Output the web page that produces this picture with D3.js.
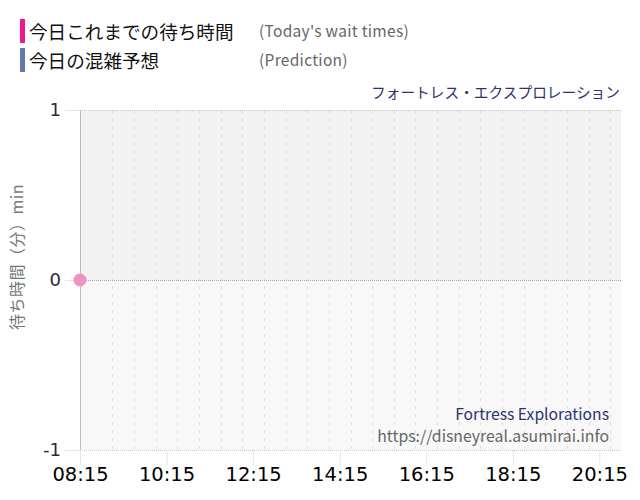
<!DOCTYPE html>
<html>
<head>
<meta charset="utf-8">
<script src="https://cdn.jsdelivr.net/npm/d3@7"></script>
<style>
  body { margin: 0; background: #fff; }
  svg { display: block; font-family: "Noto Sans CJK JP", "Noto Sans", sans-serif; }
</style>
</head>
<body>
<div id="chart"></div>
<script>
var width = 640;
var height = 500;
var margin = { top: 110, right: 19, bottom: 50, left: 80 };

// data
var legendNames = ["今日これまでの待ち時間", "今日の混雑予想"];
var legendNotes = ["(Today's wait times)", "(Prediction)"];
var legendColors = ["#f0168c", "#6279a6"];
var waitTimes = ["08:15"];
var waitValues = [0];
var xTickLabels = ["08:15", "10:15", "12:15", "14:15", "16:15", "18:15", "20:15"];
var yTicks = [-1, 0, 1];
var attraction = "フォートレス・エクスプロレーション";
var attractionEn = "Fortress Explorations";
var siteUrl = "https://disneyreal.asumirai.info";

var parseTime = d3.timeParse("%H:%M");
var fmt = d3.timeFormat("%H:%M");

var svg = d3.select("#chart").append("svg")
    .attr("width", width)
    .attr("height", height);

var x = d3.scaleTime()
    .domain([parseTime("08:15"), parseTime("20:45")])
    .range([margin.left, width - margin.right]);

var y = d3.scaleLinear()
    .domain([-1, 1])
    .range([height - margin.bottom, margin.top]);

// legend
var legend = svg.selectAll(".legend")
    .data(legendNames)
    .enter().append("g")
    .attr("transform", function (d, i) { return "translate(0," + (i * 29) + ")"; });

legend.append("rect")
    .attr("x", 20).attr("y", 19)
    .attr("width", 5).attr("height", 24)
    .attr("fill", function (d, i) { return legendColors[i]; });

legend.append("text")
    .attr("x", 29).attr("y", 39)
    .attr("font-size", 18.6)
    .attr("fill", "#111")
    .text(function (d) { return d; });

legend.append("text")
    .attr("x", 259).attr("y", 37)
    .attr("font-size", 15.5)
    .attr("letter-spacing", 0.3)
    .attr("fill", "#666")
    .text(function (d, i) { return legendNotes[i]; });

// title
svg.append("text")
    .attr("x", width - 20).attr("y", 98)
    .attr("text-anchor", "end")
    .attr("font-size", 14.7)
    .attr("fill", "#2d3170")
    .text(attraction);

// background bands
svg.append("rect")
    .attr("x", x.range()[0]).attr("y", y(1))
    .attr("width", x.range()[1] - x.range()[0])
    .attr("height", y(0) - y(1))
    .attr("fill", "#f2f2f2");
svg.append("rect")
    .attr("x", x.range()[0]).attr("y", y(0))
    .attr("width", x.range()[1] - x.range()[0])
    .attr("height", y(-1) - y(0))
    .attr("fill", "#f8f8f8");

// vertical grid, every 30 min dashed, every 2 h dotted
var halfHours = d3.timeMinute.every(30).range(parseTime("08:45"), parseTime("20:46"));
svg.append("g").selectAll("line")
    .data(halfHours)
    .enter().append("line")
    .attr("x1", function (d) { return Math.round(x(d)) + 0.5; })
    .attr("x2", function (d) { return Math.round(x(d)) + 0.5; })
    .attr("y1", y(1)).attr("y2", y(-1))
    .attr("stroke", function (d) {
        return xTickLabels.indexOf(fmt(d)) >= 0 ? "#cdcdcd" : "#dddddd";
    })
    .attr("stroke-width", 1)
    .attr("stroke-dasharray", function (d) {
        return xTickLabels.indexOf(fmt(d)) >= 0 ? "1,1" : "3,5";
    });

// horizontal lines
svg.append("g").selectAll("line")
    .data(yTicks)
    .enter().append("line")
    .attr("x1", x.range()[0]).attr("x2", x.range()[1])
    .attr("y1", function (d) { return y(d) + 0.5; })
    .attr("y2", function (d) { return y(d) + 0.5; })
    .attr("stroke", function (d) { return d === 0 ? "#a8a8a8" : "#c8c8c8"; })
    .attr("stroke-dasharray", "1,1");

// y axis
var yAxis = svg.append("g")
    .attr("transform", "translate(" + margin.left + ",0)")
    .call(d3.axisLeft(y).tickValues(yTicks).tickFormat(function (d) { return String(d); })
        .tickSize(15).tickPadding(4));
yAxis.select(".domain").attr("stroke", "#bbb").attr("d", "M0.5," + y(1) + "V" + y(-1));
yAxis.selectAll(".tick line").attr("stroke", "#e4e4e4");
yAxis.selectAll(".tick text")
    .attr("font-size", 18)
    .attr("fill", "#2a2a3a")
    .attr("font-family", "'DejaVu Sans', sans-serif");

// x axis
var xAxis = svg.append("g")
    .attr("transform", "translate(0," + y(-1) + ")")
    .call(d3.axisBottom(x)
        .tickValues(xTickLabels.map(parseTime))
        .tickFormat(fmt)
        .tickSize(15).tickPadding(2));
xAxis.select(".domain").remove();
xAxis.selectAll(".tick line").attr("stroke", "#e4e4e4");
xAxis.selectAll(".tick text")
    .attr("font-size", 19.5)
    .attr("fill", "#000")
    .attr("font-family", "'DejaVu Sans', sans-serif");

// y label
svg.append("text")
    .attr("transform", "translate(23," + 257 + ") rotate(-90)")
    .attr("text-anchor", "middle")
    .attr("font-size", 16)
    .attr("letter-spacing", 0.5)
    .attr("fill", "#777")
    .text("待ち時間（分）min");

// watermark
svg.append("text")
    .attr("x", 609).attr("y", 420)
    .attr("text-anchor", "end")
    .attr("font-size", 15.7)
    .attr("fill", "#2d3170")
    .text(attractionEn);
svg.append("text")
    .attr("x", 609).attr("y", 442)
    .attr("text-anchor", "end")
    .attr("font-size", 15.8)
    .attr("fill", "#666")
    .text(siteUrl);

// wait time points
svg.append("g").selectAll("circle")
    .data(waitTimes)
    .enter().append("circle")
    .attr("cx", function (d) { return x(parseTime(d)); })
    .attr("cy", function (d, i) { return y(waitValues[i]); })
    .attr("r", 6.5)
    .attr("fill", "#f090c4");
</script>
</body>
</html>
